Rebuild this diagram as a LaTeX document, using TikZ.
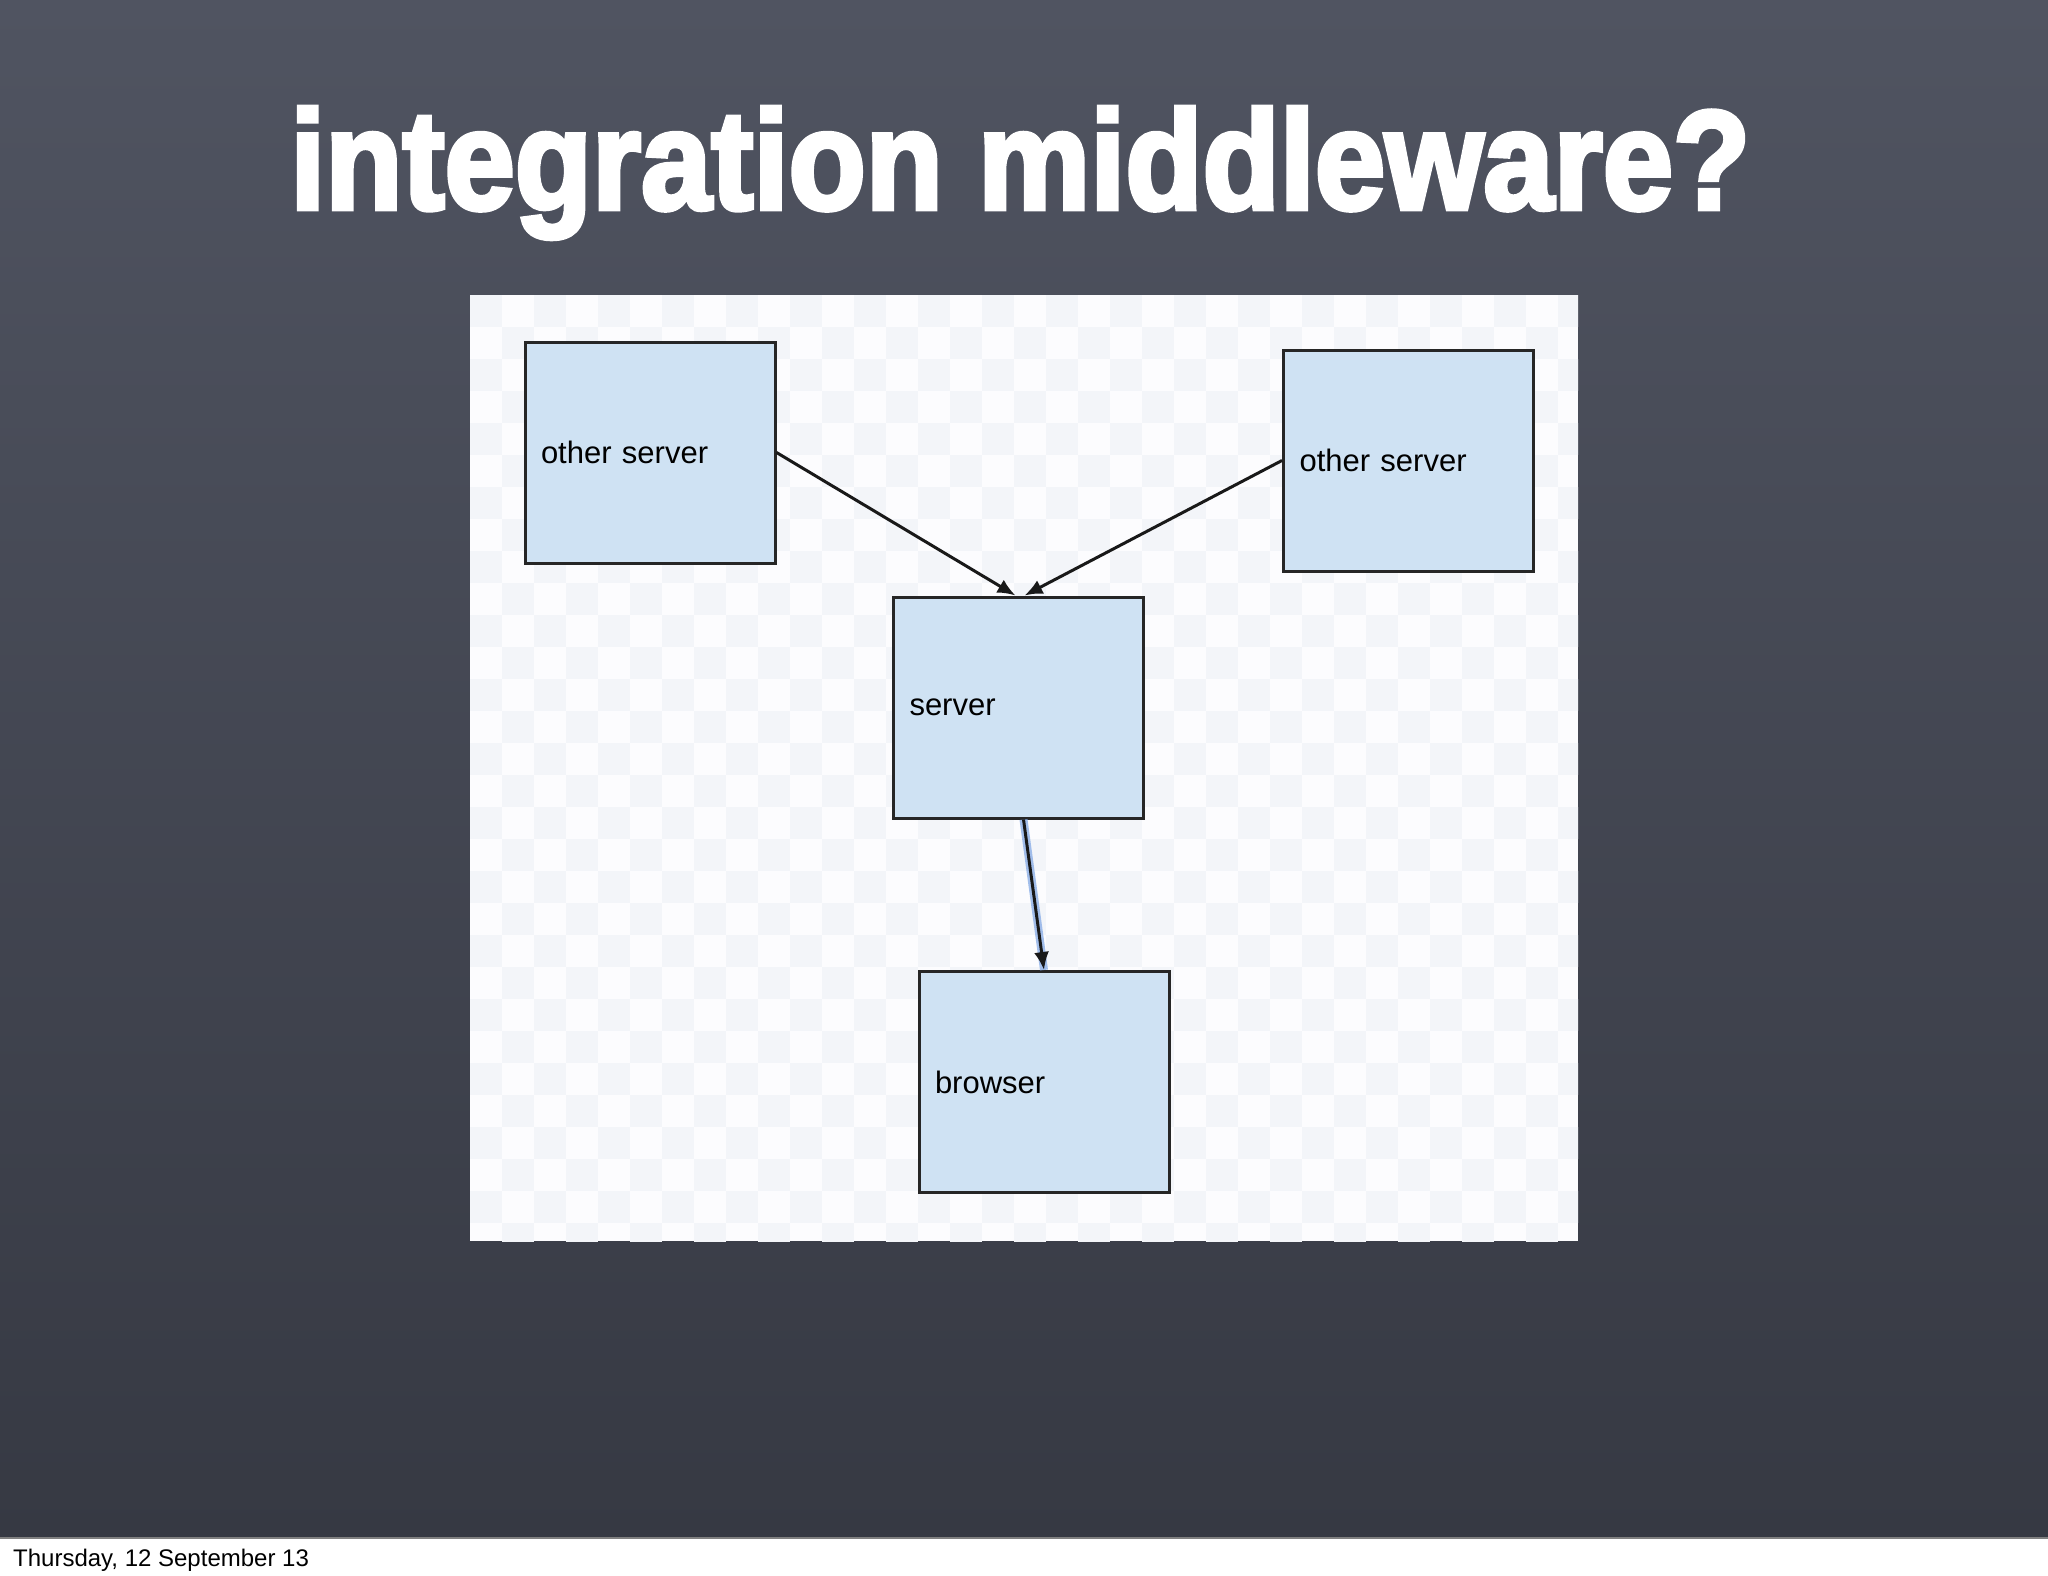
\documentclass[tikz,border=0pt]{standalone}
\usepackage{fontspec}
\setmainfont{Liberation Sans}
\font\titlefnt="Liberation Sans/B:embolden=3.5" at 140pt
\usetikzlibrary{arrows.meta}
\definecolor{boardtop}{RGB}{80,84,97}
\definecolor{boardbot}{RGB}{54,57,67}
\definecolor{boxblue}{RGB}{207,226,243}
\definecolor{glowblue}{RGB}{125,165,228}
\definecolor{checkgray}{RGB}{243,245,249}
\definecolor{panelwhite}{RGB}{252,252,254}
\tikzset{
  srvbox/.style={draw=black!85, line width=3pt, fill=boxblue, minimum height=221pt,
    text width=218pt, inner xsep=16pt, align=left, font=\fontsize{31}{37}\selectfont},
  link/.style={draw=black!90, line width=3pt, -{Latex[length=18pt,width=15pt]}},
}

\begin{document}
\begin{tikzpicture}[x=1pt,y=-1pt]
    \useasboundingbox (0,0) rectangle (2048,1576);
    % board and footer
    \shade[top color=boardtop, bottom color=boardbot] (0,0) rectangle (2048,1538);
    \fill[white] (0,1538) rectangle (2048,1576);
    \draw[gray, line width=2pt] (0,1538) -- (2048,1538);
    \node[anchor=base west, text=white, inner sep=0pt] (title) at (290,209)
        {\resizebox{1460pt}{102pt}{\titlefnt integration middleware?}};
    \node[anchor=base west, inner sep=0pt, font=\fontsize{24}{28}\selectfont] (date) at (13,1566)
        {Thursday, 12 September 13};
    % panel with faint checks
    \fill[panelwhite] (470,295) rectangle (1578,1241);
    \begin{scope}
        \clip (470,295) rectangle (1578,1241);
        \foreach \j in {0,2,...,30} \foreach \i in {0,2,...,36} {
            \fill[checkgray] (470+\i*32,295+\j*32) rectangle ++(32,32);
            \fill[checkgray] (502+\i*32,327+\j*32) rectangle ++(32,32);
        }
    \end{scope}
    % boxes
    \node[srvbox] (other1) at (650,452.5) {other server};
    \node[srvbox] (other2) at (1408.5,460.5) {other server};
    \node[srvbox] (server) at (1018.5,707.5) {server};
    \node[srvbox] (browser) at (1044,1082) {browser};
    % links
    \draw[link] (other1.east) -- ([xshift=-3pt]server.north);
    \draw[link] (other2.west) -- ([xshift=6pt]server.north);
    \draw[glowblue, line width=8pt, opacity=.7] ([xshift=5pt]server.south) -- (browser.north);
    \draw[link] ([xshift=5pt]server.south) -- (browser.north);
\end{tikzpicture}
\end{document}
